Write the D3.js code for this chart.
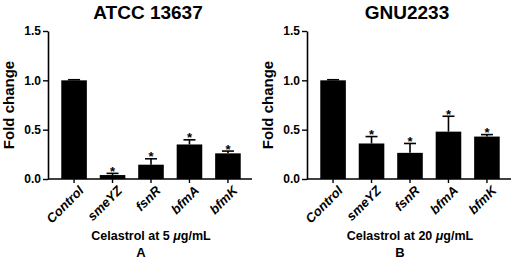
<!DOCTYPE html>
<html><head><meta charset="utf-8">
<script src="https://cdn.jsdelivr.net/npm/d3@7"></script>
<style>body{margin:0;background:#fff}svg{display:block}text{font-family:Arial,"Liberation Sans",sans-serif}</style>
</head><body>
<script>
const categories = ["Control","smeYZ","fsnR","bfmA","bfmK"];
const valuesA = [1.0, 0.04, 0.145, 0.35, 0.26];
const errorsA = [0.006, 0.017, 0.06, 0.047, 0.023];
const valuesB = [1.0, 0.36, 0.265, 0.48, 0.43];
const errorsB = [0.006, 0.07, 0.095, 0.156, 0.02];
const starsA = ["", "*", "*", "*", "*"];
const starsB = ["", "*", "*", "*", "*"];
const yTicks = [0, 0.5, 1.0, 1.5];
const titles = ["ATCC 13637", "GNU2233"];
const doses = ["5", "20"];
const letters = ["A", "B"];

const svg = d3.select("body").append("svg").attr("width",513).attr("height",260);

function panel(ox, title, vals, errs, stars, dose, letter, letterX) {
  const g = svg.append("g");
  const y = d3.scaleLinear().domain([0,1.5]).range([179,31]);
  const x = d3.scaleBand().domain(categories).range([ox, ox+206]).paddingInner(0.335).paddingOuter(0.345);

  g.append("text").attr("x", ox+100).attr("y", 18.5).attr("text-anchor","middle")
    .attr("font-size","19px").attr("font-weight","bold").text(title);

  const ya = g.append("g").attr("transform",`translate(${ox},0)`)
    .call(d3.axisLeft(y).tickValues(yTicks).tickFormat(d3.format(".1f")).tickSize(5).tickPadding(2).tickSizeOuter(0));
  ya.select(".domain").attr("stroke-width",1.6);
  ya.selectAll(".tick line").attr("stroke-width",1.4);
  ya.selectAll(".tick text").attr("font-size","12px").attr("font-weight","bold").attr("font-family","Arial,'Liberation Sans',sans-serif").attr("fill","#000");

  g.append("line").attr("x1",ox).attr("x2",ox+204).attr("y1",y(0)).attr("y2",y(0))
    .attr("stroke","#000").attr("stroke-width",1.6);

  g.append("text").attr("transform",`translate(${ox-39},${(y(0)+y(1.5))/2}) rotate(-90)`)
    .attr("text-anchor","middle").attr("dy","0.35em").attr("font-size","15px").attr("font-weight","bold").text("Fold change");

  categories.forEach((c,i)=>{
    const xc = x(c)+x.bandwidth()/2;
    const top = vals[i]+errs[i];
    g.append("line").attr("x1",xc).attr("x2",xc).attr("y1",y(0)).attr("y2",y(0)+4).attr("stroke","#000").attr("stroke-width",1.4);
    g.append("line").attr("x1",xc).attr("x2",xc).attr("y1",y(vals[i])).attr("y2",y(top)).attr("stroke","#000").attr("stroke-width",1.6);
    g.append("line").attr("x1",xc-6).attr("x2",xc+6).attr("y1",y(top)).attr("y2",y(top)).attr("stroke","#000").attr("stroke-width",1.6);
    g.append("rect").attr("x",x(c)).attr("width",x.bandwidth()).attr("y",y(vals[i])).attr("height",y(0)-y(vals[i])).attr("fill","#000");
    if (stars[i]) g.append("text").attr("x",xc).attr("y",y(top)+2.5).attr("text-anchor","middle")
      .attr("font-size","13px").attr("font-weight","bold").text(stars[i]);
    g.append("text").attr("transform",`translate(${xc+4},${y(0)+6}) rotate(-45)`)
      .attr("text-anchor","end").attr("dy","0.7em").attr("font-size","13px").attr("font-weight","bold").attr("font-style","italic").text(c);
  });

  const xl = g.append("text").attr("x", ox+103).attr("y", 239.5).attr("text-anchor","middle")
    .attr("font-size","12.5px").attr("font-weight","bold");
  xl.append("tspan").text(`Celastrol at ${dose} `);
  xl.append("tspan").attr("font-style","italic").text("μ");
  xl.append("tspan").text("g/mL");

  g.append("text").attr("x", letterX).attr("y", 256.5).attr("text-anchor","middle")
    .attr("font-size","13px").attr("font-weight","bold").text(letter);
}

panel(48, titles[0], valuesA, errorsA, starsA, doses[0], letters[0], 141);
panel(307, titles[1], valuesB, errorsB, starsB, doses[1], letters[1], 400);
</script>
</body></html>
